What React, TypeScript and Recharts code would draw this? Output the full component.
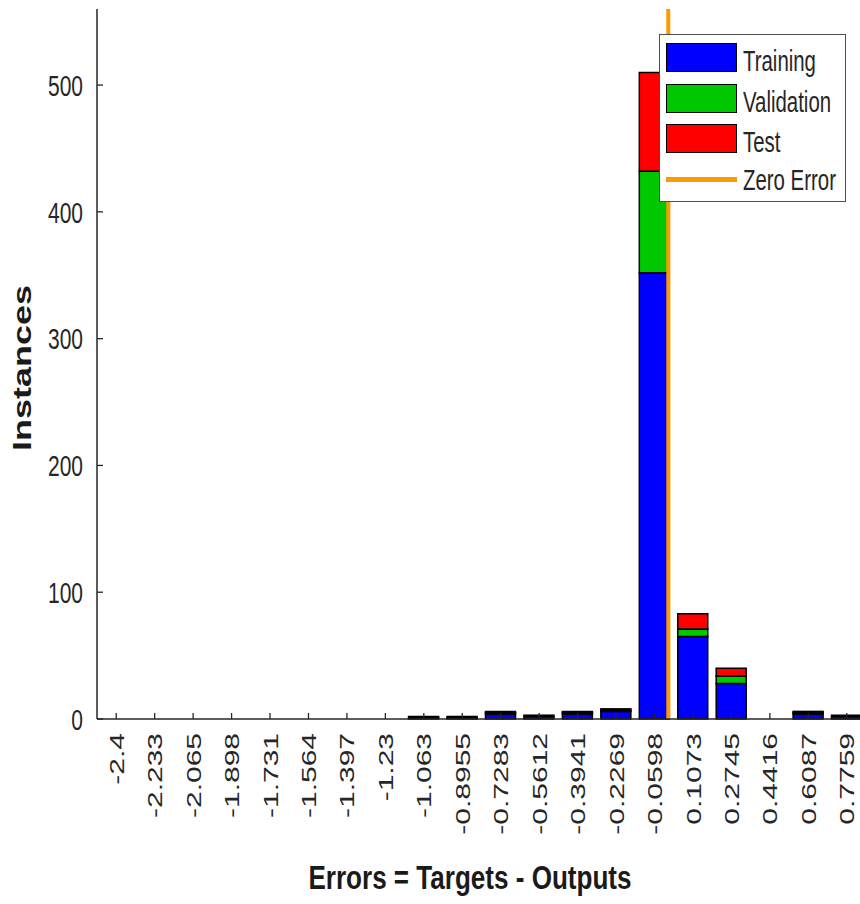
import React from "react";
import { Bar, BarChart, Label, Legend, ReferenceLine, XAxis, YAxis } from "recharts";

// error histogram, 20 bins
const bins = [
  "-2.4", "-2.233", "-2.065", "-1.898", "-1.731", "-1.564", "-1.397", "-1.23", "-1.063", "-0.8955",
  "-0.7283", "-0.5612", "-0.3941", "-0.2269", "-0.0598", "0.1073", "0.2745", "0.4416", "0.6087", "0.7759",
];
const training = [0, 0, 0, 0, 0, 0, 0, 0, 1, 1, 4, 2, 4, 6, 352, 65, 28, 0, 4, 2];
const validation = [0, 0, 0, 0, 0, 0, 0, 0, 0, 0, 1, 0, 1, 1, 80, 6, 6, 0, 1, 0];
const test = [0, 0, 0, 0, 0, 0, 0, 0, 1, 1, 1, 1, 1, 1, 78, 12, 6, 0, 1, 1];
const yTicks = [0, 100, 200, 300, 400, 500];

const series = [
  { key: "training", name: "Training", fill: "#0000ff" },
  { key: "validation", name: "Validation", fill: "#00c800" },
  { key: "test", name: "Test", fill: "#ff0000" },
];

const data = bins.map((bin, i) => ({
  bin,
  center: Number(bin),
  training: training[i],
  validation: validation[i],
  test: test[i],
}));

// hidden numeric axis so the zero line sits at x = 0
const first = Number(bins[0]);
const last = Number(bins[bins.length - 1]);
const half = (last - first) / (bins.length - 1) / 2;

const FONT = '"Liberation Sans", Arial, sans-serif';
const INK = "#262626";
const ZERO = "#ff9900";

function YTick(props: any) {
  const { x, y, payload } = props;
  return (
    <g>
      <line x1={x} x2={x + 6} y1={y} y2={y} stroke={INK} strokeWidth={1.3} />
      <text
        transform={`translate(${x - 14} ${y}) scale(0.7 1)`}
        textAnchor="end"
        dy="0.36em"
        fontSize={30}
        fontFamily={FONT}
        fill={INK}
      >
        {payload.value}
      </text>
    </g>
  );
}

function XTick(props: any) {
  const { x, y, payload } = props;
  return (
    <g>
      <line x1={x} x2={x} y1={y} y2={y - 6} stroke={INK} strokeWidth={1.3} />
      <text
        transform={`translate(${x} ${y + 14}) scale(0.7 1) rotate(-90)`}
        textAnchor="end"
        dy="0.36em"
        fontSize={30}
        fontFamily={FONT}
        fill={INK}
      >
        {payload.value}
      </text>
    </g>
  );
}

function HistLegend() {
  const rowTop = [8, 48.5, 89];
  return (
    <div
      style={{
        position: "relative",
        width: 187,
        height: 168,
        boxSizing: "border-box",
        border: "1.5px solid #4d4d4d",
        background: "#ffffff",
        fontFamily: FONT,
        color: INK,
      }}
    >
      {series.map((s, i) => (
        <div key={s.key} style={{ position: "absolute", left: 6, top: rowTop[i], height: 30 }}>
          <div
            style={{
              position: "absolute",
              left: 0,
              top: 0,
              width: 71,
              height: 29,
              boxSizing: "border-box",
              border: "1.5px solid #000",
              background: s.fill,
            }}
          />
          <span
            style={{
              position: "absolute",
              left: 77,
              top: 0,
              fontSize: 30,
              lineHeight: "36px",
              whiteSpace: "nowrap",
              display: "inline-block",
              transform: "scaleX(0.68)",
              transformOrigin: "left center",
            }}
          >
            {s.name}
          </span>
        </div>
      ))}
      <div style={{ position: "absolute", left: 6, top: 142, width: 71, height: 5, background: ZERO }} />
      <span
        style={{
          position: "absolute",
          left: 83,
          top: 127,
          fontSize: 30,
          lineHeight: "36px",
          whiteSpace: "nowrap",
          display: "inline-block",
          transform: "scaleX(0.68)",
          transformOrigin: "left center",
        }}
      >
        Zero Error
      </span>
    </div>
  );
}

export default function App() {
  return (
    <div
      style={{
        position: "fixed",
        left: 0,
        top: 0,
        width: 860,
        height: 904,
        overflow: "hidden",
        background: "#ffffff",
      }}
    >
      <BarChart width={880} height={904} data={data} margin={{ top: 9, right: 14, bottom: 0, left: 0 }}>
        <YAxis
          width={97}
          domain={[0, 560]}
          ticks={yTicks}
          interval={0}
          tickSize={0}
          tickMargin={0}
          tickLine={false}
          axisLine={{ stroke: INK, strokeWidth: 1.5 }}
          tick={(p: any) => <YTick {...p} />}
        >
          <Label
            content={(p: any) => {
              const vb = p.viewBox;
              return (
                <text
                  transform={`translate(${vb.x + 31} ${vb.y + vb.height / 2 + 4}) scale(0.72 1) rotate(-90)`}
                  textAnchor="middle"
                  fontSize={36}
                  fontWeight="bold"
                  fontFamily={FONT}
                  fill="#1a1a1a"
                >
                  Instances
                </text>
              );
            }}
          />
        </YAxis>
        <XAxis
          dataKey="bin"
          height={185}
          interval={0}
          tickSize={0}
          tickMargin={0}
          tickLine={false}
          axisLine={{ stroke: INK, strokeWidth: 1.5 }}
          tick={(p: any) => <XTick {...p} />}
        >
          <Label
            content={(p: any) => {
              const vb = p.viewBox;
              return (
                <text
                  transform={`translate(${vb.x + vb.width * 0.485} ${vb.y + 170}) scale(0.79 1)`}
                  textAnchor="middle"
                  fontSize={33}
                  fontWeight="bold"
                  fontFamily={FONT}
                  fill="#1a1a1a"
                >
                  Errors = Targets - Outputs
                </text>
              );
            }}
          />
        </XAxis>
        <XAxis
          xAxisId="num"
          dataKey="center"
          type="number"
          domain={[first - half, last + half]}
          allowDataOverflow
          hide
        />
        {series.map((s) => (
          <Bar
            key={s.key}
            dataKey={s.key}
            name={s.name}
            stackId="err"
            fill={s.fill}
            stroke="#000000"
            strokeWidth={1.5}
            barSize={30}
            isAnimationActive={false}
          />
        ))}
        <ReferenceLine xAxisId="num" x={0} stroke={ZERO} strokeWidth={4} />
        <Legend
          layout="vertical"
          align="center"
          verticalAlign="middle"
          wrapperStyle={{ left: 659, top: 34, width: 187, height: 168 }}
          content={() => <HistLegend />}
        />
      </BarChart>
    </div>
  );
}
